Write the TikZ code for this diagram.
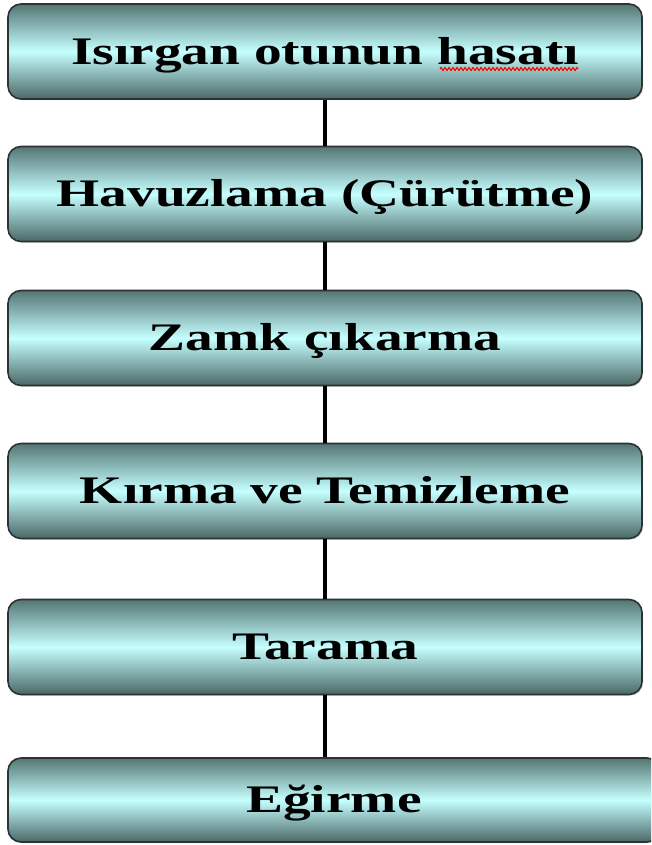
\documentclass[tikz,border=0pt]{standalone}
\usepackage{fontspec}
\usepackage{graphicx}
\setmainfont{Liberation Serif}
\usetikzlibrary{shadows,decorations.pathmorphing}
\definecolor{boxdark}{RGB}{84,118,116}
\definecolor{boxlight}{RGB}{198,255,255}
\definecolor{boxedge}{RGB}{45,50,50}
\newcommand{\stretchtext}[1]{\scalebox{1.42}[1]{#1}}
\tikzset{
  stage/.style={draw=boxedge, line width=1.6pt, rounded corners=13pt,
    top color=boxdark, bottom color=boxdark!88!black, middle color=boxlight,
    minimum width=634pt, minimum height=95pt, inner sep=0pt,
    text height=25.8pt, text depth=0pt,
    font=\bfseries\fontsize{39}{39}\selectfont,
    drop shadow={opacity=0.35, shadow xshift=1.2pt, shadow yshift=-1.2pt}},
  link/.style={line width=3.4pt, black},
  spellmark/.style={red, line width=1.1pt, decorate,
    decoration={zigzag, segment length=4pt, amplitude=1.5pt}}
}
\begin{document}
\begin{tikzpicture}[x=1pt, y=-1pt]
  \useasboundingbox (0,0) rectangle (651,845);
  \clip (0,0) rectangle (651,845);
  \fill[white] (0,0) rectangle (651,845);
  \node[stage] (n1) at (325,51.5) {\stretchtext{Isırgan otunun hasatı}};
  \node[stage] (n2) at (325,194) {\stretchtext{Havuzlama (Çürütme)}};
  \node[stage] (n3) at (325,338) {\stretchtext{Zamk çıkarma}};
  \node[stage] (n4) at (325,491) {\stretchtext{Kırma ve Temizleme}};
  \node[stage] (n5) at (325,647) {\stretchtext{Tarama}};
  \node[stage, minimum width=652pt, minimum height=84pt] (n6) at (334,800) {\stretchtext{Eğirme}};
  \draw[link] (n1.south) -- (n2.north);
  \draw[link] (n2.south) -- (n3.north);
  \draw[link] (n3.south) -- (n4.north);
  \draw[link] (n4.south) -- (n5.north);
  \draw[link] (n5.south) -- (n5.south |- n6.north);
  \coordinate (sq1) at (440,69);
  \coordinate (sq2) at (578,69);
  \draw[spellmark] (sq1) -- (sq2);
\end{tikzpicture}
\end{document}
